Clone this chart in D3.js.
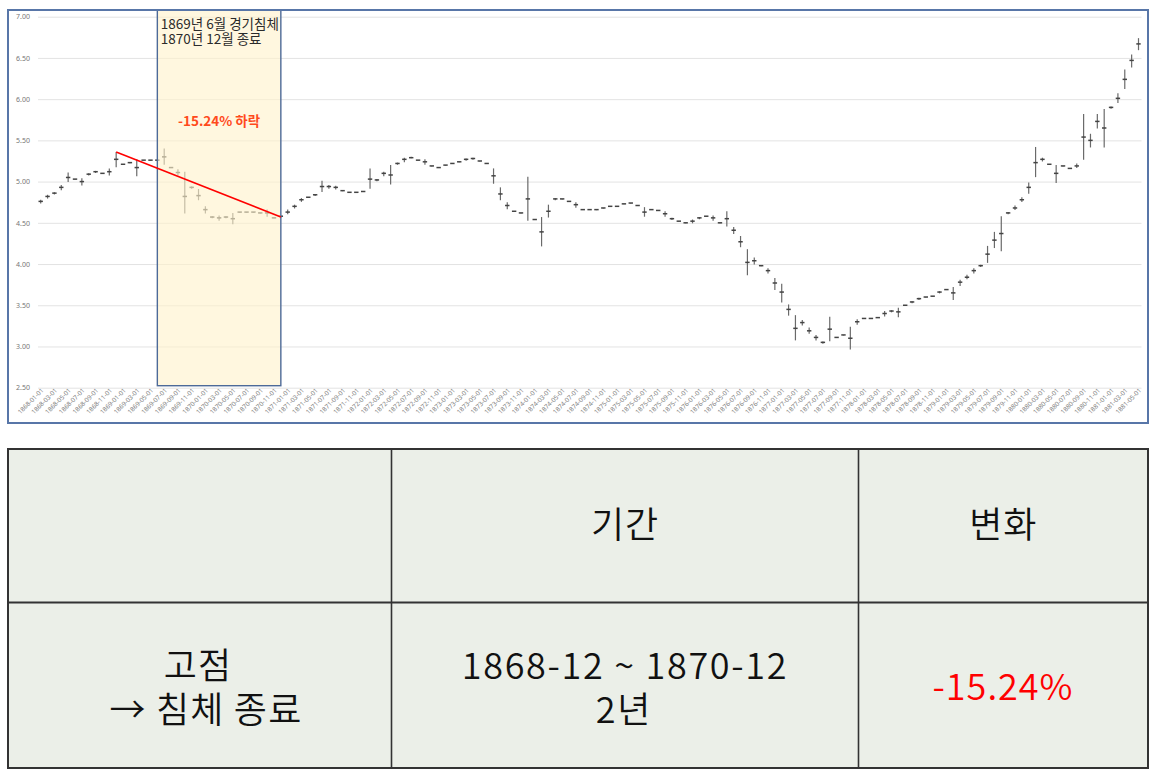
<!DOCTYPE html>
<html>
<head>
<meta charset="utf-8">
<script src="https://cdn.jsdelivr.net/npm/d3@7/dist/d3.min.js"></script>
<style>
  html, body { margin: 0; padding: 0; background: #ffffff; }
  svg { display: block; }
  text { font-family: "Noto Sans CJK KR", "Noto Sans", sans-serif; }
</style>
</head>
<body>
<svg id="chart" width="1160" height="778"></svg>
<script>
// ---------------- DATA ----------------
const startMonth = "1868-01-01";
const endMonth = "1881-05-01";

const closeValues = [
  4.76, 4.82, 4.86, 4.93, 5.05, 5.03, 5.00, 5.09, 5.12, 5.10, 5.12, 5.27,
  5.21, 5.23, 5.17, 5.26, 5.26, 5.26, 5.30, 5.17, 5.11, 4.82, 4.93, 4.83,
  4.66, 4.57, 4.56, 4.57, 4.55, 4.63, 4.63, 4.63, 4.62, 4.62, 4.56, 4.58,
  4.63, 4.70, 4.78, 4.81, 4.84, 4.94, 4.94, 4.93, 4.89, 4.87, 4.87, 4.88,
  5.03, 5.02, 5.10, 5.08, 5.22, 5.27, 5.29, 5.26, 5.24, 5.19, 5.17, 5.20,
  5.22, 5.24, 5.27, 5.28, 5.25, 5.22, 5.07, 4.85, 4.71, 4.64, 4.62, 4.79,
  4.54, 4.39, 4.64, 4.79, 4.79, 4.76, 4.72, 4.66, 4.66, 4.66, 4.68, 4.70,
  4.70, 4.73, 4.74, 4.71, 4.63, 4.66, 4.65, 4.61, 4.55, 4.52, 4.50, 4.52,
  4.56, 4.58, 4.56, 4.50, 4.55, 4.41, 4.27, 4.02, 4.04, 3.98, 3.92, 3.77,
  3.66, 3.45, 3.22, 3.29, 3.19, 3.11, 3.05, 3.21, 3.11, 3.14, 3.10, 3.30,
  3.34, 3.34, 3.35, 3.40, 3.43, 3.42, 3.50, 3.54, 3.58, 3.60, 3.61, 3.66,
  3.69, 3.65, 3.78, 3.84, 3.92, 3.98, 4.12, 4.29, 4.37, 4.62, 4.68, 4.78,
  4.93, 5.23, 5.27, 5.21, 5.10, 5.19, 5.16, 5.19, 5.54, 5.50, 5.73, 5.65,
  5.90, 6.01, 6.24, 6.47, 6.67
];
const highValues = [
  4.78, 4.84, 4.87, 4.96, 5.11, 5.03, 5.04, 5.10, 5.13, 5.10, 5.16, 5.36,
  5.21, 5.23, 5.27, 5.26, 5.26, 5.26, 5.40, 5.17, 5.15, 5.12, 4.94, 4.91,
  4.70, 4.58, 4.59, 4.58, 4.62, 4.63, 4.63, 4.63, 4.62, 4.66, 4.56, 4.58,
  4.66, 4.72, 4.80, 4.81, 4.85, 5.01, 4.96, 4.95, 4.89, 4.87, 4.87, 4.88,
  5.16, 5.03, 5.12, 5.20, 5.23, 5.29, 5.30, 5.26, 5.27, 5.19, 5.17, 5.20,
  5.22, 5.24, 5.28, 5.29, 5.25, 5.22, 5.16, 4.93, 4.75, 4.64, 4.62, 5.06,
  4.54, 4.57, 4.72, 4.80, 4.79, 4.76, 4.75, 4.66, 4.66, 4.66, 4.68, 4.70,
  4.70, 4.73, 4.74, 4.71, 4.69, 4.66, 4.65, 4.64, 4.56, 4.52, 4.50, 4.54,
  4.57, 4.58, 4.59, 4.50, 4.64, 4.45, 4.34, 4.18, 4.08, 3.98, 3.95, 3.83,
  3.76, 3.51, 3.38, 3.32, 3.23, 3.14, 3.06, 3.36, 3.11, 3.14, 3.24, 3.33,
  3.34, 3.34, 3.35, 3.43, 3.44, 3.47, 3.50, 3.55, 3.59, 3.60, 3.61, 3.67,
  3.69, 3.72, 3.81, 3.87, 3.95, 3.99, 4.22, 4.39, 4.58, 4.63, 4.71, 4.81,
  4.99, 5.42, 5.29, 5.21, 5.20, 5.19, 5.16, 5.22, 5.82, 5.58, 5.82, 5.88,
  5.91, 6.07, 6.36, 6.54, 6.74
];
const lowValues = [
  4.74, 4.80, 4.85, 4.90, 5.00, 5.03, 4.96, 5.08, 5.11, 5.10, 5.08, 5.18,
  5.21, 5.23, 5.07, 5.26, 5.26, 5.26, 5.21, 5.17, 5.08, 4.62, 4.92, 4.78,
  4.62, 4.56, 4.53, 4.56, 4.49, 4.63, 4.63, 4.63, 4.62, 4.58, 4.56, 4.57,
  4.61, 4.68, 4.76, 4.81, 4.83, 4.88, 4.92, 4.91, 4.89, 4.87, 4.87, 4.88,
  4.92, 5.01, 5.07, 4.97, 5.21, 5.24, 5.29, 5.26, 5.21, 5.19, 5.17, 5.20,
  5.22, 5.24, 5.26, 5.27, 5.25, 5.22, 4.98, 4.78, 4.67, 4.64, 4.62, 4.53,
  4.54, 4.22, 4.57, 4.78, 4.79, 4.76, 4.69, 4.66, 4.66, 4.66, 4.68, 4.70,
  4.70, 4.73, 4.74, 4.71, 4.58, 4.66, 4.65, 4.58, 4.54, 4.52, 4.50, 4.50,
  4.55, 4.58, 4.53, 4.50, 4.46, 4.37, 4.21, 3.87, 4.00, 3.98, 3.89, 3.69,
  3.54, 3.38, 3.08, 3.26, 3.16, 3.08, 3.04, 3.07, 3.11, 3.14, 2.97, 3.27,
  3.34, 3.34, 3.35, 3.37, 3.42, 3.36, 3.50, 3.53, 3.57, 3.60, 3.61, 3.65,
  3.69, 3.57, 3.74, 3.82, 3.89, 3.97, 4.02, 4.20, 4.16, 4.61, 4.66, 4.76,
  4.86, 5.06, 5.25, 5.21, 4.99, 5.19, 5.16, 5.17, 5.27, 5.42, 5.65, 5.42,
  5.89, 5.96, 6.13, 6.39, 6.60
];

const yTickValues = [2.5, 3.0, 3.5, 4.0, 4.5, 5.0, 5.5, 6.0, 6.5, 7.0];

const recessionStart = "1869-06-01";
const recessionEnd = "1870-12-01";
const peakMonth = "1868-12-01";
const peakValue = 5.36;
const endValue = 4.57;
const bandLines = ["1869년 6월 경기침체", "1870년 12월 종료"];
const dropLabel = "-15.24% 하락";

const tableHeader = ["", "기간", "변화"];
const tableRowLeft = ["고점", "→ 침체 종료"];
const tableRowPeriod = ["1868-12 ~ 1870-12", "2년"];
const tableRowChange = "-15.24%";

// ---------------- BUILD ----------------
const fmt = d3.timeFormat("%Y-%m-%d");
const parse = d3.timeParse("%Y-%m-%d");
const months = d3.timeMonth.range(parse(startMonth), d3.timeMonth.offset(parse(endMonth), 1)).map(fmt);
const data = months.map((m, i) => ({ m, close: closeValues[i], high: highValues[i], low: lowValues[i] }));

const svg = d3.select("#chart");

const x = d3.scalePoint().domain(months).range([40.7, 1138.5]);
const y = d3.scaleLinear().domain([2.5, 7]).range([387.7, 16.7]);

// gridlines
const gridAxis = d3.axisLeft(y).tickValues(yTickValues).tickSize(-(1141.5 - 38)).tickFormat(d3.format(".2f"));
const gAxis = svg.append("g").attr("transform", "translate(38,0)").call(gridAxis);
gAxis.select(".domain").remove();
gAxis.selectAll(".tick line").attr("stroke", "#e3e3e3").attr("stroke-width", 1);
gAxis.selectAll(".tick text")
  .attr("x", -8).attr("fill", "#767676")
  .style("font-size", "7px").style("font-family", "'Noto Sans', sans-serif");

// x labels every 2 months
const xLabelMonths = months.filter((m, i) => i % 2 === 0);
const xAxis = d3.axisBottom(x).tickValues(xLabelMonths).tickSize(0);
const gx = svg.append("g").attr("transform", "translate(0,391)").call(xAxis);
gx.select(".domain").remove();
gx.selectAll(".tick text")
  .attr("transform", "rotate(-45)")
  .attr("text-anchor", "end")
  .attr("x", 2).attr("y", 0).attr("dy", "0.3em")
  .attr("fill", "#7e7e7e")
  .style("font-size", "6.4px").style("font-family", "'Noto Sans', sans-serif");

// candles
const gC = svg.append("g");
gC.selectAll("line.hl").data(data).join("line")
  .attr("class", "hl")
  .attr("x1", d => x(d.m)).attr("x2", d => x(d.m))
  .attr("y1", d => y(d.high)).attr("y2", d => y(d.low) + 0.5)
  .attr("stroke", "#6a6a6a").attr("stroke-width", 1.2);
gC.selectAll("line.cl").data(data).join("line")
  .attr("class", "cl")
  .attr("x1", d => x(d.m) - 2.2).attr("x2", d => x(d.m) + 2.2)
  .attr("y1", d => y(d.close)).attr("y2", d => y(d.close))
  .attr("stroke", "#444").attr("stroke-width", 1.5);

// recession band (overlay)
const bx0 = x(recessionStart), bx1 = x(recessionEnd);
svg.append("rect")
  .attr("x", bx0).attr("y", 10)
  .attr("width", bx1 - bx0).attr("height", y(2.5) - 2 - 10)
  .attr("fill", "#FFF2CC").attr("fill-opacity", 0.62)
  .attr("stroke", "#4d6a98").attr("stroke-width", 1.4);

// band text (one text, two lines)
const bandText = svg.append("text")
  .attr("x", bx0 + 3.5).attr("y", 29)
  .attr("fill", "#2b2b2b").style("font-size", "13.5px");
bandText.selectAll("tspan").data(bandLines).join("tspan")
  .attr("x", bx0 + 3.5).attr("dy", (d, i) => i === 0 ? 0 : 14.5)
  .text(d => d);

svg.append("text")
  .attr("x", (bx0 + bx1) / 2).attr("y", 126)
  .attr("text-anchor", "middle")
  .attr("fill", "#FF4A1C").style("font-size", "13.5px").style("font-weight", "bold")
  .text(dropLabel);

// trend line
svg.append("line")
  .attr("x1", x(peakMonth)).attr("y1", y(peakValue))
  .attr("x2", x(recessionEnd)).attr("y2", y(endValue))
  .attr("stroke", "#FF0000").attr("stroke-width", 1.6);

// chart frame
svg.append("rect")
  .attr("x", 8).attr("y", 10).attr("width", 1140).attr("height", 413)
  .attr("fill", "none").attr("stroke", "#5876a8").attr("stroke-width", 2);

// ---------------- TABLE ----------------
const tX = [8, 391.5, 858.5, 1148];
const tY = [449, 602.5, 768];
const gt = svg.append("g");
gt.append("rect")
  .attr("x", tX[0]).attr("y", tY[0]).attr("width", tX[3] - tX[0]).attr("height", tY[2] - tY[0])
  .attr("fill", "#EBEFE8").attr("stroke", "#333").attr("stroke-width", 2);
gt.selectAll("line.v").data([tX[1], tX[2]]).join("line")
  .attr("x1", d => d).attr("x2", d => d).attr("y1", tY[0]).attr("y2", tY[2])
  .attr("stroke", "#333").attr("stroke-width", 1.6);
gt.append("line")
  .attr("x1", tX[0]).attr("x2", tX[3]).attr("y1", tY[1]).attr("y2", tY[1])
  .attr("stroke", "#333").attr("stroke-width", 2);

const tFont = "36px";
const tWeight = 350;
gt.selectAll("text.h").data(tableHeader).join("text")
  .attr("class", "h")
  .attr("x", (d, i) => (tX[i] + tX[i + 1]) / 2).attr("y", 538)
  .attr("text-anchor", "middle").attr("fill", "#111")
  .style("font-size", tFont).style("font-weight", tWeight).style("letter-spacing", "1px")
  .text(d => d);

function twoLine(lines, xs, y0, spacing, ls) {
  const t = gt.append("text")
    .attr("y", y0).attr("text-anchor", "middle").attr("fill", "#111")
    .style("font-size", tFont).style("font-weight", tWeight).style("letter-spacing", ls);
  t.selectAll("tspan").data(lines).join("tspan")
    .attr("x", (d, i) => xs[i]).attr("dy", (d, i) => i === 0 ? 0 : spacing)
    .text(d => d);
}
twoLine(tableRowLeft, [198, 206], 679, 44, "1.2px");
twoLine(tableRowPeriod, [625, 624], 679, 44, "1.7px");

gt.append("text")
  .attr("x", 1003).attr("y", 700)
  .attr("text-anchor", "middle").attr("fill", "#FF0000")
  .style("font-size", tFont).style("font-weight", tWeight).style("letter-spacing", "1px")
  .text(tableRowChange);
</script>
</body>
</html>
